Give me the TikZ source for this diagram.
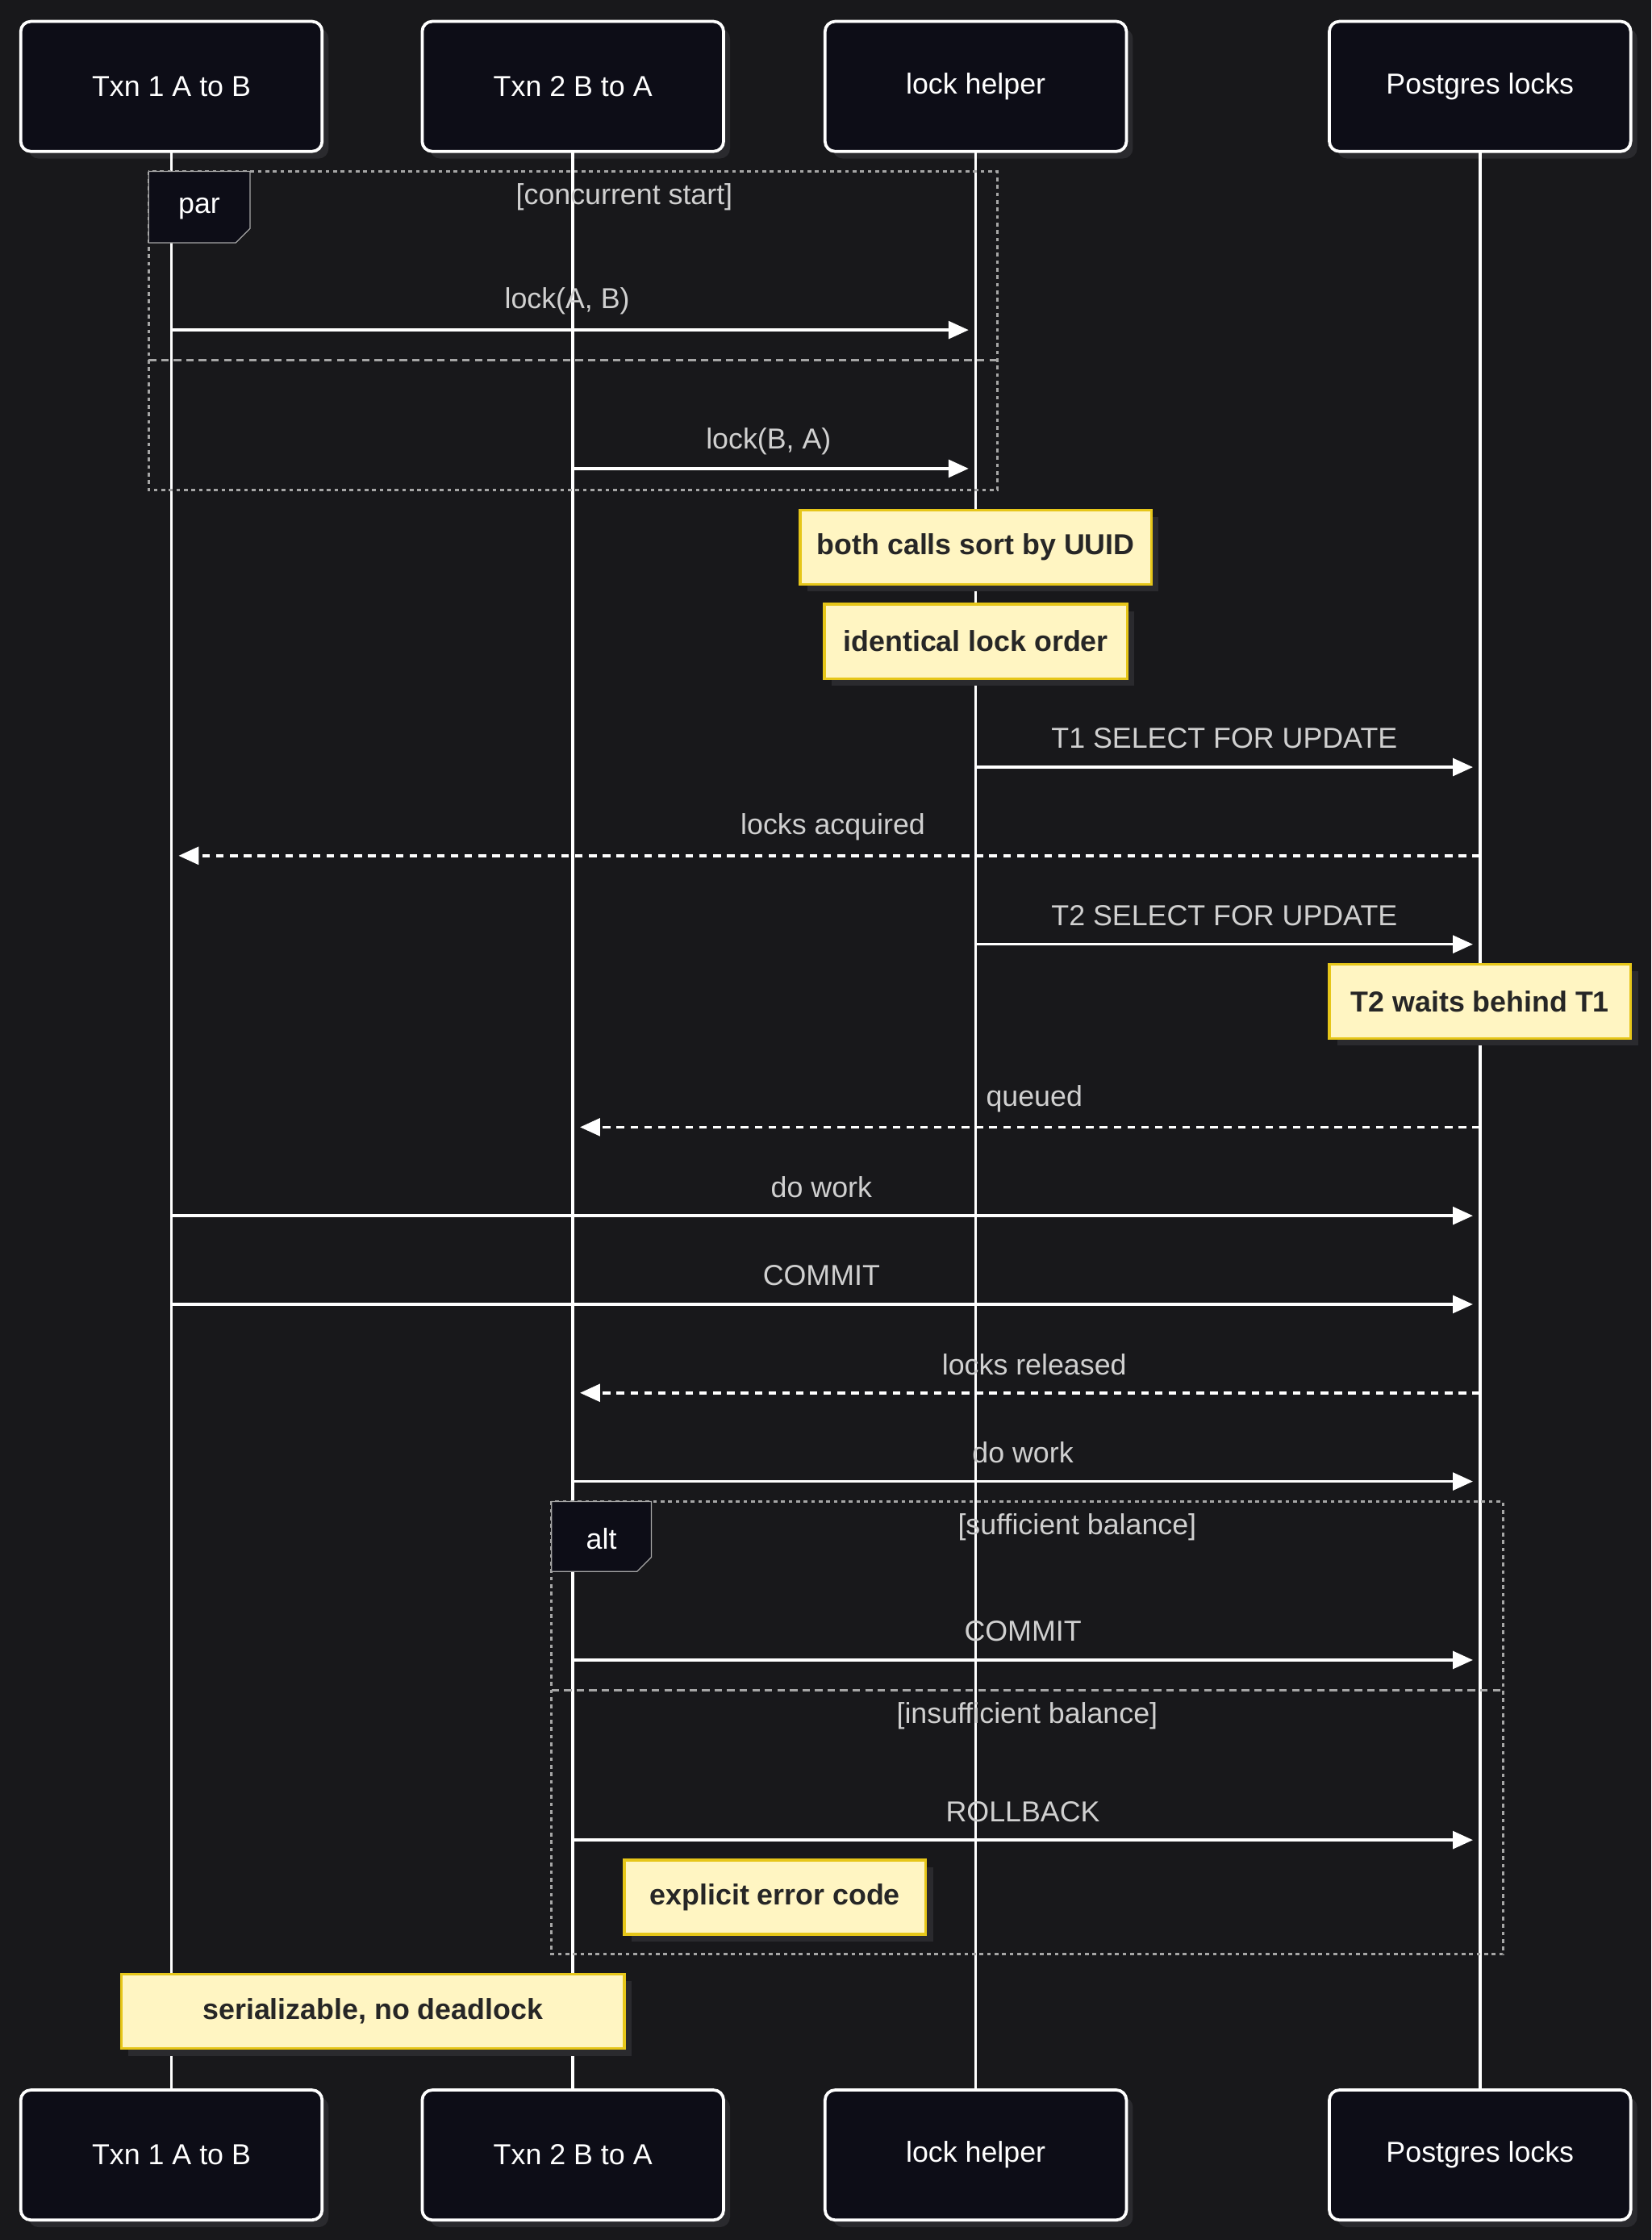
\documentclass[tikz,border=0pt]{standalone}
\usepackage{fontspec}
\setmainfont{Liberation Sans}
\usetikzlibrary{arrows.meta}
\definecolor{bg}{HTML}{18181B}
\definecolor{actf}{HTML}{0D0D17}
\definecolor{notef}{HTML}{FFF5C2}
\definecolor{noteb}{HTML}{E6C619}
\definecolor{msg}{HTML}{D0D0D0}
\definecolor{shad}{HTML}{2A2A2E}
\begin{document}
\begin{tikzpicture}[x=0.02cm,y=-0.02cm,
  actor/.style={draw=white,line width=1.2pt,fill=actf,rounded corners=4pt,minimum width=4.22cm,minimum height=1.82cm,text=white,font=\fontsize{11.5}{13}\selectfont},
  life/.style={draw=white,line width=1.1pt},
  msgl/.style={text=msg,font=\fontsize{11.5}{13}\selectfont},
  sol/.style={draw=white,line width=1.1pt,-{Triangle[length=8pt,width=7pt]}},
  dsh/.style={draw=white,line width=1.1pt,dash pattern=on 3pt off 2.5pt,-{Triangle[length=8pt,width=7pt]}},
  note/.style={draw=noteb,line width=1.1pt,fill=notef,text=black!85,font=\bfseries\fontsize{11.5}{13}\selectfont,minimum height=1.04cm,inner sep=1pt},
  frame/.style={draw=gray!70,line width=1pt,dash pattern=on 1.5pt off 1.5pt},
  sep/.style={draw=gray!70,line width=1pt,dash pattern=on 3pt off 2pt},
  flab/.style={draw=gray!70,fill=actf,text=white,font=\fontsize{11.5}{13}\selectfont}]
\fill[bg] (0,0) rectangle (1156,1568);
\useasboundingbox (0,0) rectangle (1156,1568);
% shadows
\foreach \cx in {120,401,683,1036}{
  \fill[shad,rounded corners=4pt] (\cx-105+5,20) rectangle (\cx+105+5,111);
  \fill[shad,rounded corners=4pt] (\cx-105+5,1468) rectangle (\cx+105+5,1559);}
% lifelines
\coordinate (l1t) at (120,106); \coordinate (l1b) at (120,1463);
\coordinate (l2t) at (401,106); \coordinate (l2b) at (401,1463);
\coordinate (l3t) at (683,106); \coordinate (l3b) at (683,1463);
\coordinate (l4t) at (1036,106); \coordinate (l4b) at (1036,1463);
\draw[life] (l1t)--(l1b); \draw[life] (l2t)--(l2b); \draw[life] (l3t)--(l3b); \draw[life] (l4t)--(l4b);
% actors
\node[actor] (a1) at (120,60.5) {Txn 1 A to B};
\node[actor] (a2) at (401,60.5) {Txn 2 B to A};
\node[actor] (a3) at (683,60.5) {lock helper};
\node[actor] (a4) at (1036,60.5) {Postgres locks};
\node[actor] (b1) at (120,1508.5) {Txn 1 A to B};
\node[actor] (b2) at (401,1508.5) {Txn 2 B to A};
\node[actor] (b3) at (683,1508.5) {lock helper};
\node[actor] (b4) at (1036,1508.5) {Postgres locks};
% par frame
\draw[frame] (104,120) rectangle (698,343);
\draw[sep] (104,252)--(698,252);
\draw[flab] (104,120)--(175,120)--(175,160)--(165,170)--(104,170)--cycle;
\node[text=white,font=\fontsize{11.5}{13}\selectfont] (parl) at (139.5,146) {par};
\node[msgl] (pc) at (437,138) {[concurrent start]};
% messages
\coordinate (m1s) at (120,231); \coordinate (m1e) at (678,231);
\draw[sol] (m1s)--(m1e); \node[msgl] (t1) at (397,211) {lock(A, B)};
\coordinate (m2s) at (401,328); \coordinate (m2e) at (678,328);
\draw[sol] (m2s)--(m2e); \node[msgl] (t2) at (538,309) {lock(B, A)};
\fill[shad] (565,362) rectangle (811,414);
\node[note,minimum width=4.92cm] (n1) at (683,383) {both calls sort by UUID};
\fill[shad] (582,428) rectangle (794,480);
\node[note,minimum width=4.24cm] (n2) at (683,449) {identical lock order};
\coordinate (m3s) at (683,537); \coordinate (m3e) at (1031,537);
\draw[sol] (m3s)--(m3e); \node[msgl] (t3) at (857,517) {T1 SELECT FOR UPDATE};
\coordinate (m4s) at (1036,599); \coordinate (m4e) at (125,599);
\draw[dsh] (m4s)--(m4e); \node[msgl] (t4) at (583,579) {locks acquired};
\coordinate (m5s) at (683,661); \coordinate (m5e) at (1031,661);
\draw[sol] (m5s)--(m5e); \node[msgl] (t5) at (857,641) {T2 SELECT FOR UPDATE};
\fill[shad] (936,680) rectangle (1147,732);
\node[note,minimum width=4.22cm] (n3) at (1036,701) {T2 waits behind T1};
\coordinate (m6s) at (1036,789); \coordinate (m6e) at (406,789);
\draw[dsh] (m6s)--(m6e); \node[msgl] (t6) at (724,769) {queued};
\coordinate (m7s) at (120,851); \coordinate (m7e) at (1031,851);
\draw[sol] (m7s)--(m7e); \node[msgl] (t7) at (575,831) {do work};
\coordinate (m8s) at (120,913); \coordinate (m8e) at (1031,913);
\draw[sol] (m8s)--(m8e); \node[msgl] (t8) at (575,893) {COMMIT};
\coordinate (m9s) at (1036,975); \coordinate (m9e) at (406,975);
\draw[dsh] (m9s)--(m9e); \node[msgl] (t9) at (724,955) {locks released};
\coordinate (m10s) at (401,1037); \coordinate (m10e) at (1031,1037);
\draw[sol] (m10s)--(m10e); \node[msgl] (t10) at (716,1017) {do work};
% alt frame
\draw[frame] (386,1051) rectangle (1052,1368);
\draw[sep] (386,1183)--(1052,1183);
\draw[flab] (386,1051)--(456,1051)--(456,1090)--(446,1100)--(386,1100)--cycle;
\node[text=white,font=\fontsize{11.5}{13}\selectfont] (altl) at (421,1077) {alt};
\node[msgl] (ac1) at (754,1069) {[sufficient balance]};
\node[msgl] (ac2) at (719,1201) {[insufficient balance]};
\coordinate (m11s) at (401,1162); \coordinate (m11e) at (1031,1162);
\draw[sol] (m11s)--(m11e); \node[msgl] (t11) at (716,1142) {COMMIT};
\coordinate (m12s) at (401,1288); \coordinate (m12e) at (1031,1288);
\draw[sol] (m12s)--(m12e); \node[msgl] (t12) at (716,1268) {ROLLBACK};
\fill[shad] (442,1307) rectangle (653,1359);
\node[note,minimum width=4.22cm] (n4) at (542.5,1328) {explicit error code};
\fill[shad] (90,1387) rectangle (442,1439);
\node[note,minimum width=7.04cm] (n5) at (261,1408) {serializable, no deadlock};
\end{tikzpicture}
\end{document}
